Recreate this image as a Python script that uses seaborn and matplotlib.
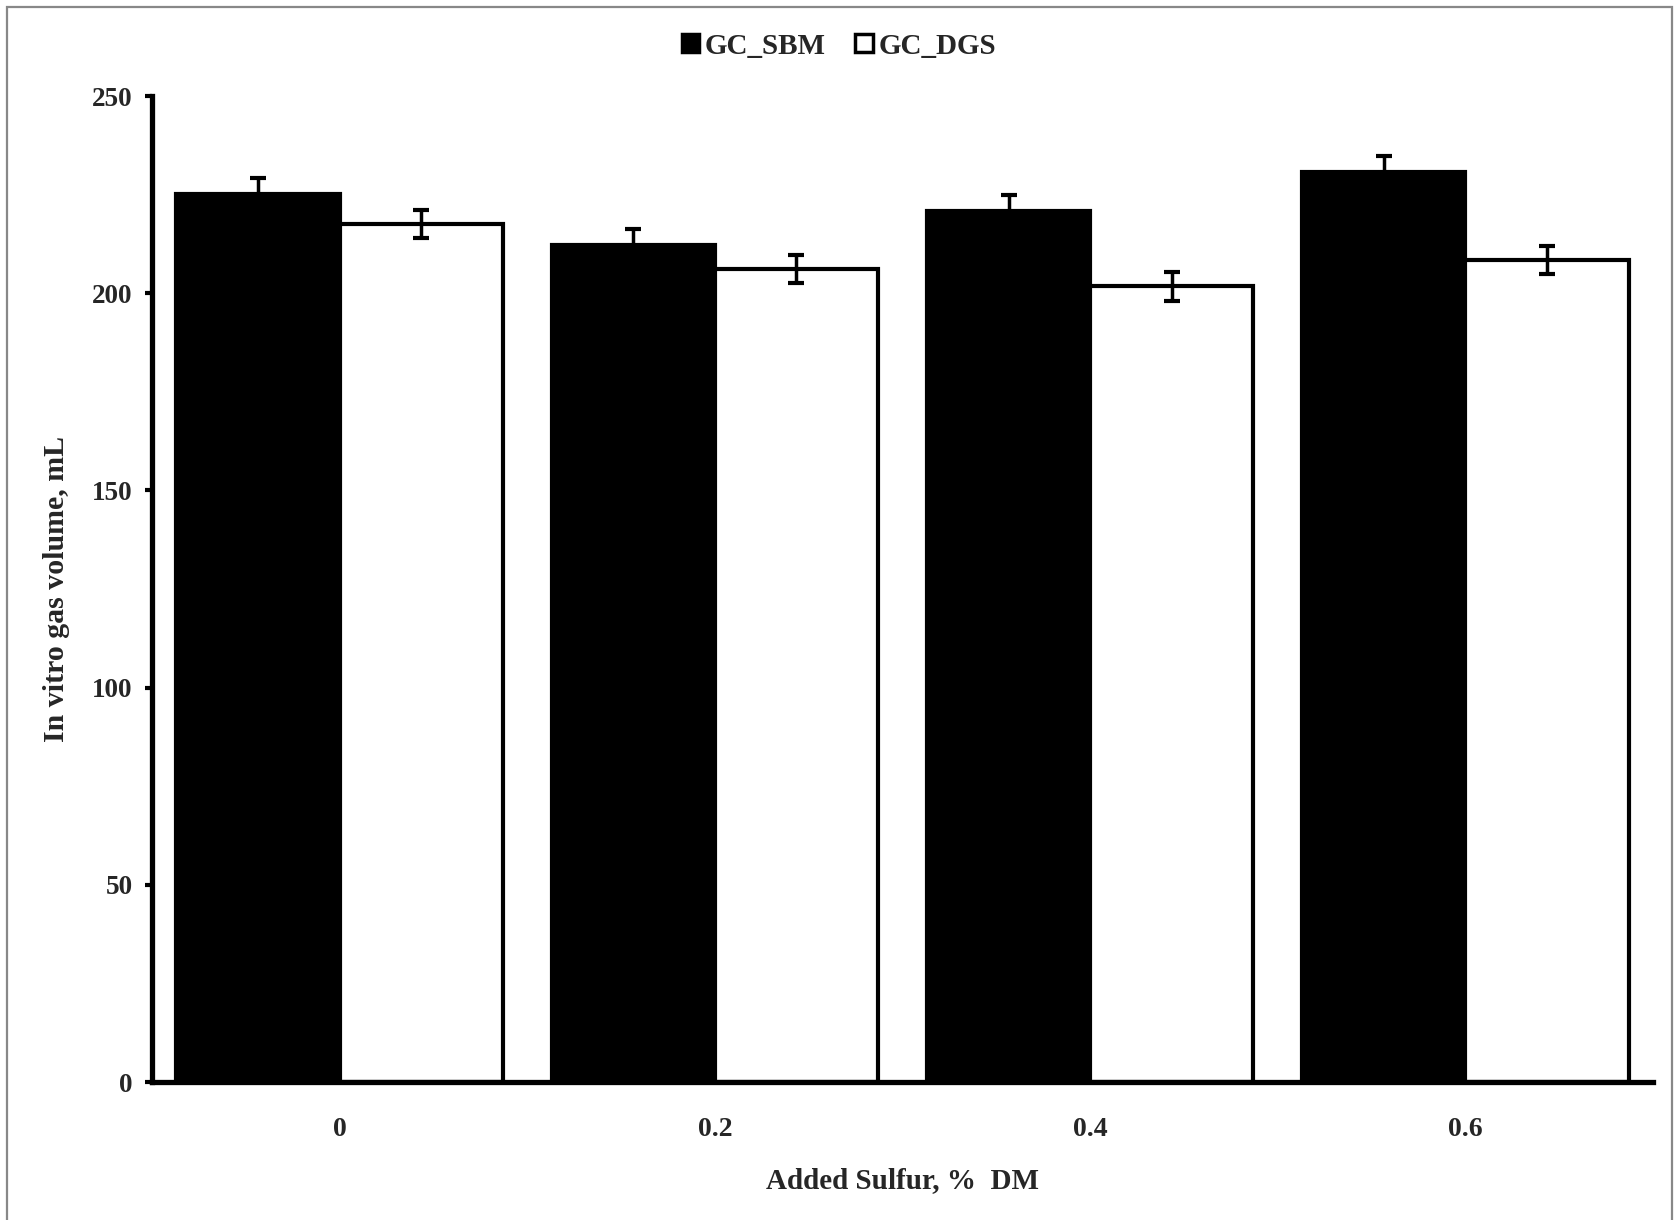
import matplotlib
matplotlib.use("Agg")
import matplotlib.pyplot as plt
import seaborn as sns
import pandas as pd
import numpy as np
from matplotlib.patches import Rectangle

categories = ["0", "0.2", "0.4", "0.6"]
series_names = ["GC_SBM", "GC_DGS"]
sbm_values = [225.2, 212.2, 220.8, 230.7]
dgs_values = [217.6, 206.2, 201.7, 208.4]
sbm_err = [4.1, 4.2, 4.2, 4.2]
dgs_err = [3.5, 3.5, 3.6, 3.5]
yticks = [0, 50, 100, 150, 200, 250]

df = pd.DataFrame({
    "cat": categories * 2,
    "series": [series_names[0]] * 4 + [series_names[1]] * 4,
    "value": sbm_values + dgs_values,
    "err": sbm_err + dgs_err,
})

sns.set_theme(style="white")
plt.rcParams["font.family"] = ["Liberation Serif", "DejaVu Serif"]
plt.rcParams["font.weight"] = "bold"

fig = plt.figure(figsize=(16.78, 12.2), dpi=100)
ax = fig.add_axes([152/1678, 1 - 1082/1220, (1653 - 152)/1678, (1082 - 96)/1220])

sns.barplot(data=df, x="cat", y="value", hue="series", order=categories,
            hue_order=series_names, palette=["black", "white"],
            width=0.87, errorbar=None, edgecolor="black", linewidth=3.0,
            saturation=1, ax=ax)

# error bars from bar geometry
bars = [p for p in ax.patches if p.get_height() > 0]
bars = sorted(bars, key=lambda p: p.get_x())
centers = [p.get_x() + p.get_width() / 2 for p in bars]
heights = [p.get_height() for p in bars]
errs_map = {}
for v, e in zip(sbm_values + dgs_values, sbm_err + dgs_err):
    errs_map[round(v, 3)] = e
errs = [errs_map[round(h, 3)] for h in heights]
ax.errorbar(centers, heights, yerr=errs, fmt="none", ecolor="black",
            elinewidth=2.5, capsize=6, capthick=3, zorder=5)

ax.set_ylim(0, 250)
ax.set_xlim(-0.5, 3.5)
ax.set_yticks(yticks)
ax.set_yticklabels([str(t) for t in yticks], fontsize=19.5, fontweight="bold")
ax.set_xticks(range(4))
ax.set_xticklabels(categories, fontsize=20, fontweight="bold")
ax.set_xticks(np.arange(-0.5, 4.0, 1.0), minor=True)
ax.tick_params(axis="x", which="major", length=0, pad=25)
ax.tick_params(axis="x", which="minor", length=6, width=3, direction="out", color="black")
ax.tick_params(axis="y", which="major", length=5, width=3, direction="out", color="black", pad=9, left=True)

for side in ["top", "right"]:
    ax.spines[side].set_visible(False)
for side in ["left", "bottom"]:
    ax.spines[side].set_linewidth(3.8)
    ax.spines[side].set_color("black")

ax.set_xlabel("Added Sulfur, %  DM", fontsize=21, fontweight="bold", labelpad=18)
ax.set_ylabel("In vitro gas volume, mL", fontsize=21.5, fontweight="bold", labelpad=16)

handles, labels = ax.get_legend_handles_labels()
if ax.legend_:
    ax.legend_.remove()
leg = fig.legend(handles, labels, loc="center", bbox_to_anchor=(0.5, 1 - 46/1220),
                 ncol=2, frameon=False, handlelength=0.6,
                 handleheight=0.6, handletextpad=0.2, columnspacing=1.0,
                 prop={"weight": "bold", "size": 21})
for h in leg.legend_handles:
    h.set_linewidth(2.5)
    h.set_edgecolor("black")

fig.patches.append(Rectangle((7/1678, -0.05), (1672 - 7)/1678, 1.05 - 7/1220,
                             transform=fig.transFigure, fill=False,
                             edgecolor="#888888", linewidth=1.6))

fig.savefig("out.png", dpi=100, facecolor="white")
